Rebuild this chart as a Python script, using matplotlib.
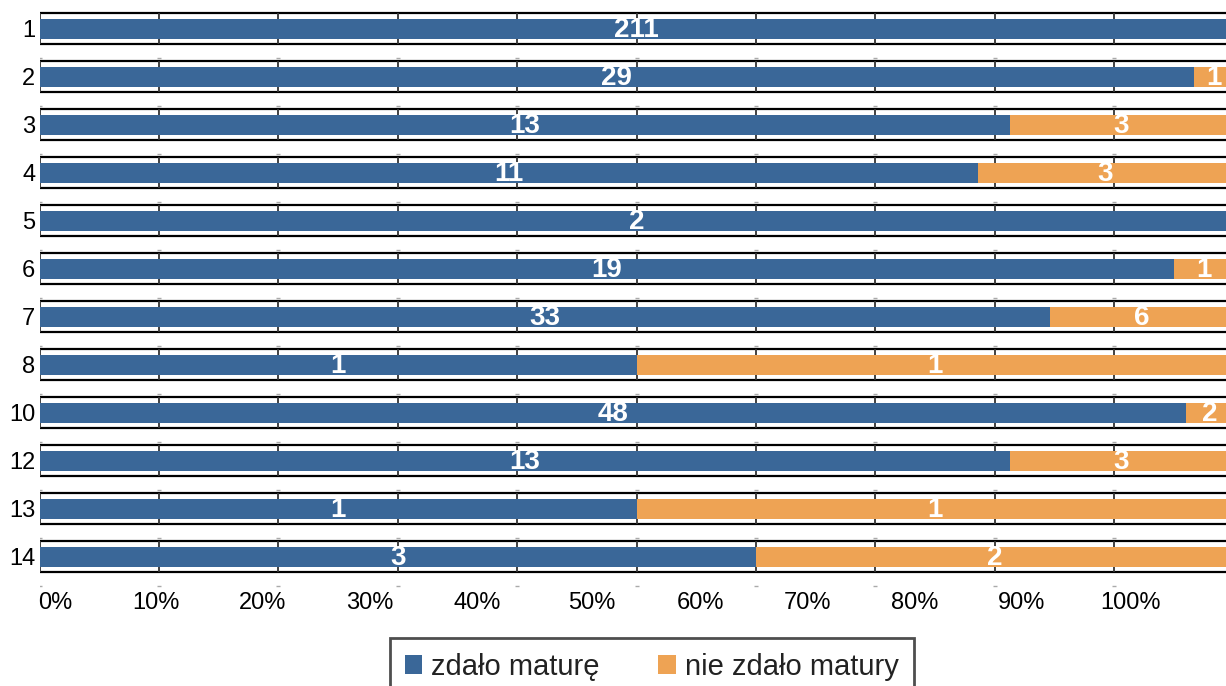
import numpy as np
import matplotlib
matplotlib.use("Agg")
import matplotlib.pyplot as plt
from matplotlib.patches import Patch

plt.rcParams["font.family"] = ["Liberation Sans", "DejaVu Sans"]

# ------------------------
# Data
# ------------------------
rows = ["1", "2", "3", "4", "5", "6", "7", "8", "10", "12", "13", "14"]
passed = [211, 29, 13, 11, 2, 19, 33, 1, 48, 13, 1, 3]
failed = [0, 1, 3, 3, 0, 1, 6, 1, 2, 3, 1, 2]
series_names = ["zdało maturę", "nie zdało matury"]
tick_labels = ["0%", "10%", "20%", "30%", "40%", "50%", "60%", "70%", "80%", "90%", "100%"]

BLUE = "#3a6798"
ORANGE = "#eea354"

W, H, DPI = 1226, 686, 100
PITCH = 48.0          # px per row
ROW0 = 28.5           # px centre of first row
X0, XW = 39.5, 1194.0  # px of 0% and width of 100%

# ------------------------
# Figure
# ------------------------
fig = plt.figure(figsize=(W / DPI, H / DPI), dpi=DPI)
ax = fig.add_axes([X0 / W, 0, XW / W, 1])
ax.set_xlim(0, 1)
ax.set_ylim((H - ROW0) / PITCH, -ROW0 / PITCH)
for s in ax.spines.values():
    s.set_visible(False)

passed = np.array(passed, dtype=float)
failed = np.array(failed, dtype=float)
total = passed + failed
p_frac = passed / total
f_frac = failed / total
y = np.arange(len(rows))

bar_h = 20 / PITCH
frame_h = 15.5 / PITCH

# row frames
grid_x = np.linspace(0, 1, 11)
for yi in y:
    ax.hlines([yi - frame_h, yi + frame_h], 0, 1.01, color="black", lw=1.6, zorder=1)
    ax.vlines(grid_x, yi - frame_h, yi + frame_h, color="#333333", lw=1.3, zorder=1)
    # tiny dashes below each frame
    ax.plot(grid_x, np.full_like(grid_x, yi + 29 / PITCH), ls="none", marker="_",
            ms=3, mew=1, color="#aaaaaa", zorder=1)

b1 = ax.barh(y, p_frac, height=bar_h, color=BLUE, zorder=2, label=series_names[0])
b2 = ax.barh(y, f_frac, left=p_frac, height=bar_h, color=ORANGE, zorder=2,
             label=series_names[1])

for yi in y:
    if passed[yi] > 0:
        ax.text(p_frac[yi] / 2, yi + 0.03, f"{int(passed[yi])}", ha="center", va="center",
                color="white", fontsize=20, fontweight="bold", zorder=3)
    if failed[yi] > 0:
        ax.text(p_frac[yi] + f_frac[yi] / 2, yi + 0.03, f"{int(failed[yi])}", ha="center",
                va="center", color="white", fontsize=20, fontweight="bold", zorder=3)

ax.set_yticks(y)
ax.set_yticklabels(rows, fontsize=17)
ax.tick_params(axis="y", length=0, pad=3.0)
ax.set_xticks([])

# x tick labels (rendered off-grid as in the original)
label_px = [55, 156, 263, 370, 477, 592, 700, 807, 915, 1022, 1130]
label_y = (603 - ROW0) / PITCH
for px, lab in zip(label_px, tick_labels):
    ax.text((px - X0) / XW, label_y, lab, ha="center", va="center", fontsize=17)

# legend
handles = [Patch(facecolor=BLUE, edgecolor="none"), Patch(facecolor=ORANGE, edgecolor="none")]
leg = fig.legend(handles, series_names, loc="upper left",
                 bbox_to_anchor=(390 / W, 1 - 638 / H), ncol=2, fontsize=21,
                 frameon=True, fancybox=False, edgecolor="#222222",
                 handlelength=0.6, handleheight=0.6, borderpad=0.5,
                 handletextpad=0.32, columnspacing=2.0, borderaxespad=0)
leg.get_frame().set_linewidth(2)
for t in leg.get_texts():
    t.set_color("#222222")

fig.savefig("out.png", dpi=DPI)
